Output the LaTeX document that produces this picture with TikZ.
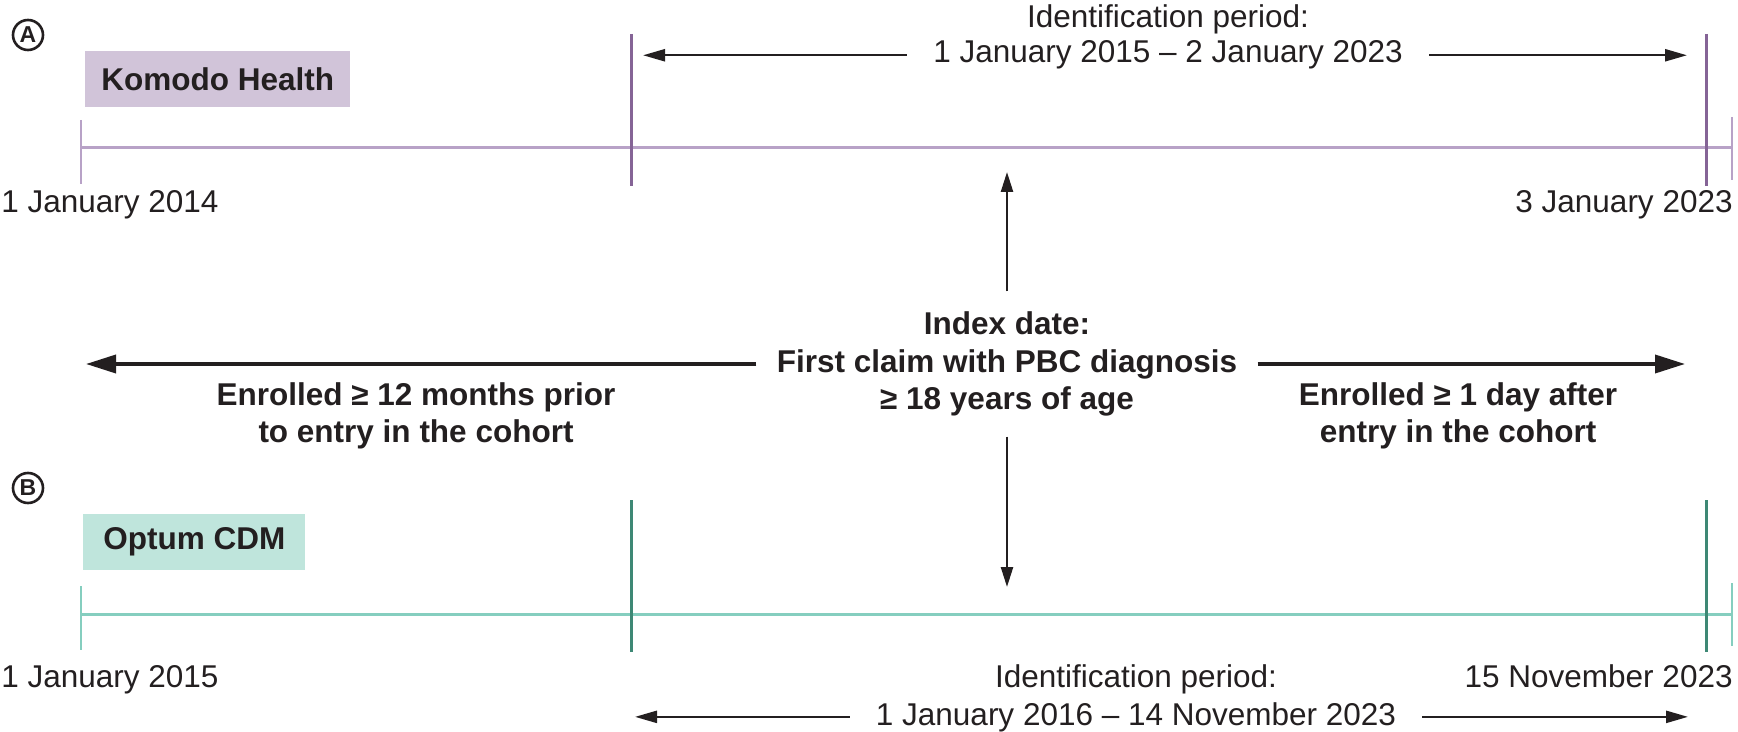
\documentclass[tikz,border=0pt]{standalone}
\usepackage{fontspec}
\setmainfont{Liberation Sans}
\usetikzlibrary{positioning,arrows.meta}
\definecolor{komodoline}{RGB}{184,162,199}
\definecolor{komodotick}{RGB}{133,100,150}
\definecolor{komodofill}{RGB}{209,196,217}
\definecolor{optumline}{RGB}{133,206,191}
\definecolor{optumtick}{RGB}{62,136,117}
\definecolor{optumfill}{RGB}{191,229,220}
\definecolor{ink}{RGB}{35,31,32}

\begin{document}
\begin{tikzpicture}[x=0.5pt,y=-0.5pt,
    every node/.style={text=ink,font=\fontsize{15.75}{18}\selectfont},
    panel/.style={draw=ink,circle,line width=1.3pt,minimum size=15pt,inner sep=0pt,font=\fontsize{11.5}{12}\selectfont\bfseries},
    dbname/.style={anchor=west,minimum height=28pt,inner xsep=8pt,font=\fontsize{15.75}{18}\selectfont\bfseries},
    date/.style={inner sep=0pt},
    period/.style={anchor=base,inner xsep=13pt,inner ysep=0pt},
    crit/.style={align=center,inner sep=10pt,font=\fontsize{15.75}{18.75}\selectfont\bfseries},
    periodarrow/.style={-{Triangle[length=11pt,width=6pt]},line width=1.2pt,draw=ink},
    indexarrow/.style={-{Triangle[length=10pt,width=6pt]},line width=1.2pt,draw=ink},
    enrolarrow/.style={-{Triangle[length=15pt,width=9pt]},line width=1.8pt,draw=ink}]

  \useasboundingbox (0,0) rectangle (1738,732);

  % the two database timelines
  \foreach \ty/\lc/\tc in {148/komodoline/komodotick,614/optumline/optumtick}{
    \draw[draw=\lc,line width=1.5pt] (81,\ty) -- (1732,\ty);
    \draw[draw=\lc,line width=1.2pt] (81,\ty-28) -- (81,\ty+36);
    \draw[draw=\lc,line width=1.2pt] (1732,\ty-31) -- (1732,\ty+32);
    \draw[draw=\tc,line width=1.5pt] (631,\ty-114) -- (631,\ty+38);
    \draw[draw=\tc,line width=1.5pt] (1706,\ty-114) -- (1706,\ty+38);
  }

  \node[panel] (panA) at (28,35) {A};
  \node[panel] (panB) at (28,488) {B};
  \node[dbname,fill=komodofill] (komodo) at (85,79.5) {Komodo Health};
  \node[dbname,fill=optumfill,minimum width=111pt] (optum) at (83,542) {Optum CDM};

  \node[date,anchor=base west] (kStart) at (1,213) {1 January 2014};
  \node[date,anchor=base east] (kEnd) at (1733,213) {3 January 2023};
  \node[date,anchor=base west] (oStart) at (1,687) {1 January 2015};
  \node[date,anchor=base east] (oEnd) at (1733,687) {15 November 2023};

  % identification periods
  \node[period] (kTitle) at (1168,28) {Identification period:};
  \node[period] (kDates) at (1168,63) {1 January 2015 \textendash{} 2 January 2023};
  \node[period] (oTitle) at (1136,687) {Identification period:};
  \node[period] (oDates) at (1136,725) {1 January 2016 \textendash{} 14 November 2023};
  \coordinate (kIdL) at (643,0);
  \coordinate (kIdR) at (1687,0);
  \coordinate (oIdL) at (635,0);
  \coordinate (oIdR) at (1688,0);
  \draw[periodarrow] (kDates.west) -- (kDates.west -| kIdL);
  \draw[periodarrow] (kDates.east) -- (kDates.east -| kIdR);
  \draw[periodarrow] (oDates.west) -- (oDates.west -| oIdL);
  \draw[periodarrow] (oDates.east) -- (oDates.east -| oIdR);

  % index date and enrolment
  \node[crit] (index) at (1007,364) {Index date:\\First claim with PBC diagnosis\\≥ 18 years of age};
  \node[crit,inner sep=0pt] (prior) at (416,416) {Enrolled ≥ 12 months prior\\to entry in the cohort};
  \node[crit,inner sep=0pt] (after) at (1458,416) {Enrolled ≥ 1 day after\\entry in the cohort};
  \coordinate (idxUp) at (1006,172);
  \coordinate (idxDown) at (1006,587);
  \coordinate (enrolL) at (86,0);
  \coordinate (enrolR) at (1685,0);
  \draw[indexarrow] (index.north) -- (index.north |- idxUp);
  \draw[indexarrow] (index.south) -- (index.south |- idxDown);
  \draw[enrolarrow] (index.west) -- (index.west -| enrolL);
  \draw[enrolarrow] (index.east) -- (index.east -| enrolR);
\end{tikzpicture}
\end{document}
